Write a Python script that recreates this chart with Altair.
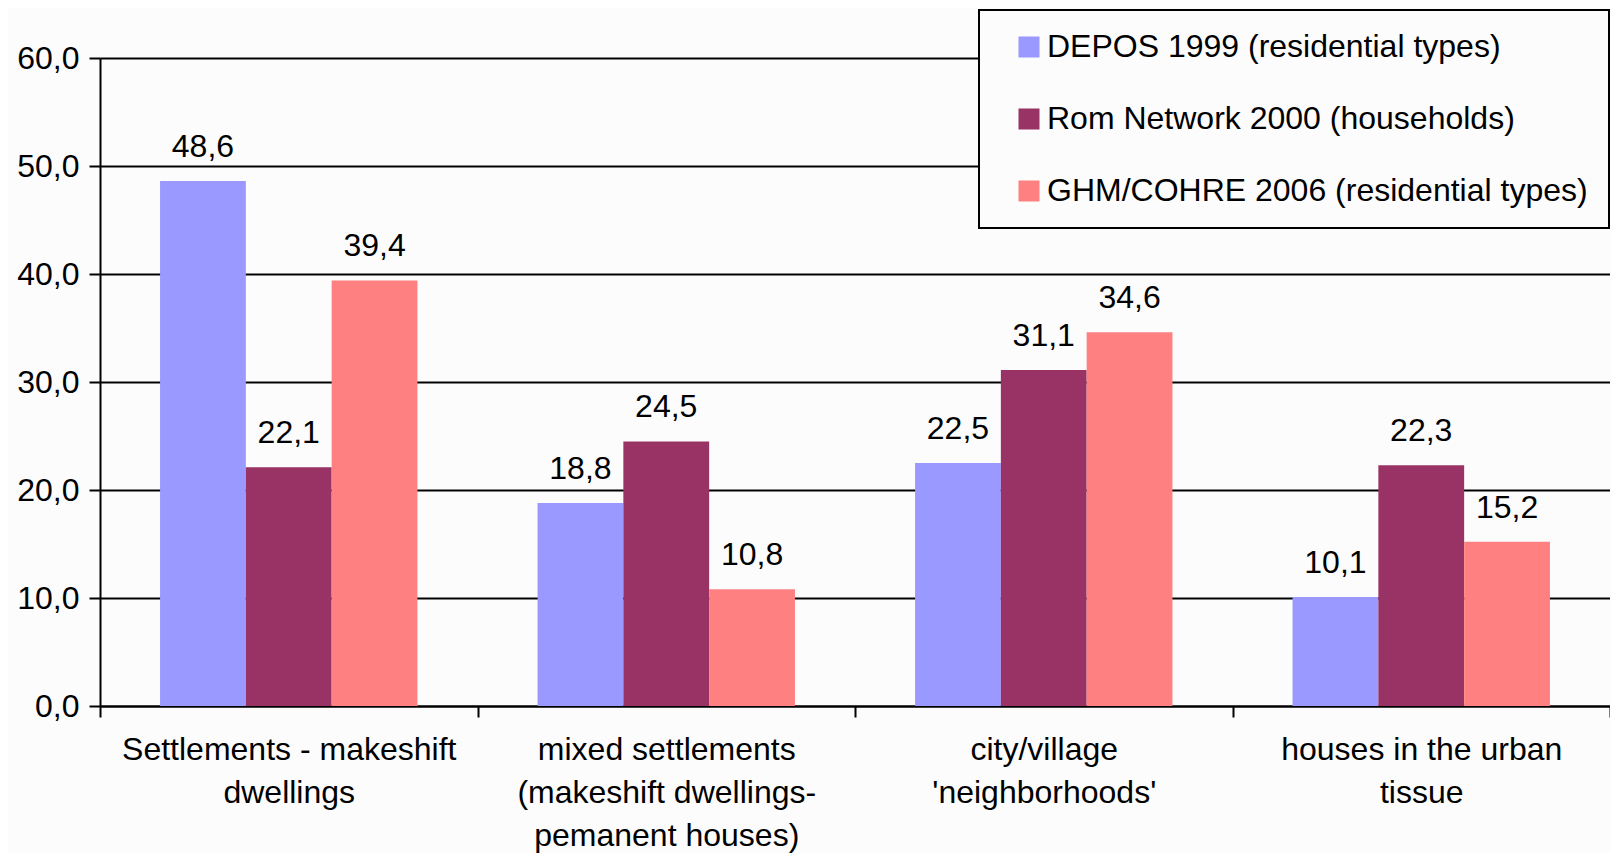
import altair as alt
import pandas as pd

categories = [
    "Settlements - makeshift\ndwellings",
    "mixed settlements\n(makeshift dwellings-\npemanent houses)",
    "city/village\n'neighborhoods'",
    "houses in the urban\ntissue",
]
series = [
    "DEPOS 1999 (residential types)",
    "Rom Network 2000 (households)",
    "GHM/COHRE 2006 (residential types)",
]
depos_1999 = [48.6, 18.8, 22.5, 10.1]
rom_2000 = [22.1, 24.5, 31.1, 22.3]
ghm_2006 = [39.4, 10.8, 34.6, 15.2]
colors = ["#9999FF", "#993366", "#FF8080"]
y_ticks = [0, 10, 20, 30, 40, 50, 60]

rows = []
for s, vals in zip(series, [depos_1999, rom_2000, ghm_2006]):
    for c, v in zip(categories, vals):
        rows.append({"category": c, "series": s, "value": v})
df = pd.DataFrame(rows)

FONT = "Liberation Sans"
FS = 32
BG = "#fcfcfc"

x_enc = alt.X(
    "category:N",
    sort=categories,
    scale=alt.Scale(paddingInner=0, paddingOuter=0),
    axis=alt.Axis(
        title=None,
        labelAngle=0,
        labelExpr="split(datum.label, '\\n')",
        labelLineHeight=43,
        labelFontSize=FS,
        labelFont=FONT,
        labelColor="#000000",
        labelPadding=17,
        labelBaseline="top",
        labelLimit=0,
        tickBand="extent",
        tickSize=11,
        tickWidth=2,
        tickColor="#000000",
        domainColor="#000000",
        domainWidth=2,
        grid=False,
    ),
)
xoff = alt.XOffset("series:N", sort=series, scale=alt.Scale(paddingInner=0, paddingOuter=0.7))
y_enc = alt.Y(
    "value:Q",
    scale=alt.Scale(domain=[0, 60], nice=False),
    axis=alt.Axis(
        title=None,
        values=y_ticks,
        labelExpr="replace(format(datum.value, '.1f'), '.', ',')",
        labelFontSize=FS,
        labelFont=FONT,
        labelColor="#000000",
        labelPadding=10,
        tickSize=11,
        tickWidth=2,
        tickColor="#000000",
        domainColor="#000000",
        domainWidth=2,
        grid=True,
        gridColor="#000000",
        gridWidth=2,
        gridOpacity=1,
    ),
)

bars = alt.Chart(df).mark_bar().encode(
    x=x_enc,
    xOffset=xoff,
    y=y_enc,
    color=alt.Color(
        "series:N",
        sort=series,
        scale=alt.Scale(domain=series, range=colors),
        legend=alt.Legend(
            title=None,
            orient="none",
            legendX=879,
            legendY=-48,
            direction="vertical",
            labelFontSize=FS,
            labelFont=FONT,
            labelColor="#000000",
            labelOffset=2,
            symbolType="square",
            symbolSize=441,
            symbolStrokeWidth=0,
            symbolOffset=13,
            rowPadding=40,
            padding=21,
            strokeColor="#000000",
            fillColor=BG,
            labelLimit=0,
        ),
    ),
)

labels = alt.Chart(df).transform_calculate(
    txt="replace(format(datum.value, '.1f'), '.', ',')"
).mark_text(
    baseline="alphabetic", align="center", dy=-24, fontSize=FS, font=FONT, color="#000000"
).encode(
    x=alt.X("category:N", sort=categories),
    xOffset=xoff,
    y=alt.Y("value:Q"),
    text="txt:N",
)

chart = alt.layer(bars, labels).properties(
    width=1510,
    height=648,
    autosize=alt.AutoSizeParams(type="none"),
    padding={"left": 92, "top": 50, "right": 0, "bottom": 147},
    background=BG,
).configure_view(stroke=None).configure_legend(strokeWidth=2)

chart.save("out.html", embed_options={"renderer": "svg", "actions": False})
